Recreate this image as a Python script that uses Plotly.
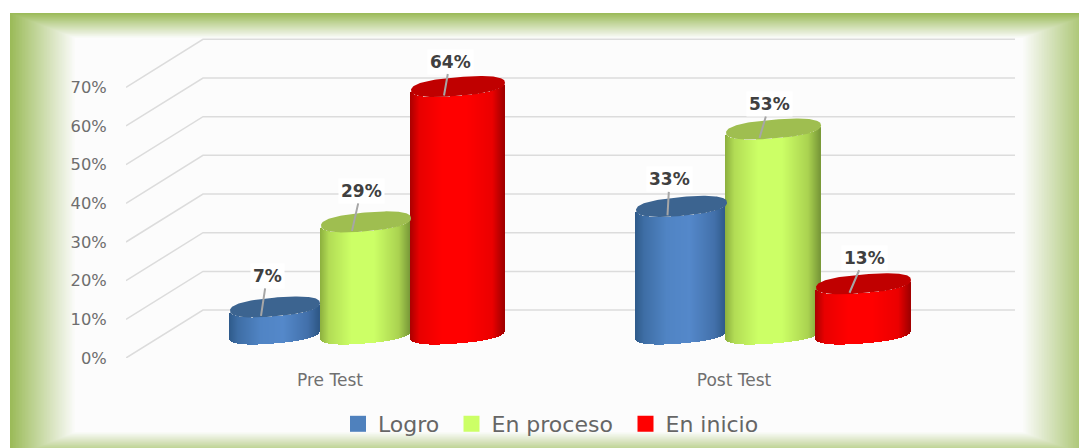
import numpy as np
import plotly.graph_objects as go

# ---- data ----
categories = ["Pre Test", "Post Test"]
series_names = ["Logro", "En proceso", "En inicio"]
logro = [7, 33]
en_proceso = [29, 53]
en_inicio = [64, 13]
value_ticks = [0, 10, 20, 30, 40, 50, 60, 70]
value_tick_labels = ["0%", "10%", "20%", "30%", "40%", "50%", "60%", "70%"]

# ---- layout constants (pixels of the 1079x448 page) ----
W, H = 1079, 448
L, R, T, B = 126, 1015, 38, 358
PX_PCT = 3.867
PX_U = 404.0
U0 = 330.0
def u(px): return (px - U0) / PX_U
def px_x(p): return (p - L) / (R - L)
def px_y(p): return (B - p) / (B - T)

DEPTH = 12.4
BASE = 6.2
CENTER_OFF_PX = [[-55, -52.5], [36, 39.5], [128, 129.5]]
HALF_W_PX = [[45, 45.5], [45, 47.5], [47, 47.5]]
MINOR_PX = 9.4
TILT_PX = 3.8
SUPER = 0.82

LEG_COL = ["#4f81bd", "#ccff66", "#ff0000"]
CAP_COL = ["#3c6490", "#9fbe50", "#c00000"]
STOPS_POS = [-1, -0.8, -0.3, 0.2, 0.75, 1]
STOPS = [
    [(46, 90, 138), (62, 110, 165), (80, 132, 196), (84, 136, 202), (66, 112, 170), (46, 88, 134)],
    [(140, 175, 62), (178, 220, 85), (204, 255, 102), (204, 255, 102), (170, 210, 80), (120, 152, 56)],
    [(170, 0, 0), (232, 0, 0), (255, 0, 0), (255, 0, 0), (235, 0, 0), (160, 0, 0)],
]

LABEL_TEXT_OFF = [[(6, -40), (2, -36)], [(9, -40), (10, -34)], [(6, -34), (15, -35)]]
HEAD_OFF = (-14, 9)
LEGEND_X_PX = [338, 451.5, 625.5]
LEGEND_IDS = ["legend", "legend2", "legend3"]

values = [logro, en_proceso, en_inicio]
fig = go.Figure()

def col(i, t):
    c = [np.interp(t, STOPS_POS, [s[k] for s in STOPS[i]]) for k in range(3)]
    return f"rgb({c[0]:.0f},{c[1]:.0f},{c[2]:.0f})"

annotations = []
for i, name in enumerate(series_names):
    for j, cat in enumerate(categories):
        v = values[i][j]
        a = HALF_W_PX[i][j]
        cx = j + CENTER_OFF_PX[i][j] / PX_U
        dx = np.arange(-a + 0.5, a, 1.0)
        r = dx / a
        round_part = MINOR_PX * (1 - np.abs(r) ** (2 / SUPER)) ** (SUPER / 2)
        shear = TILT_PX * r
        lower = BASE + (shear - round_part) / PX_PCT
        fig.add_trace(go.Bar(
            x=cx + dx / PX_U,
            y=[v] * len(dx),
            base=lower,
            width=1.4 / PX_U,
            marker=dict(color=[col(i, t) for t in r], line=dict(width=0)),
            showlegend=False, hoverinfo="skip",
        ))
        th = np.linspace(0, 2 * np.pi, 160)
        ex = np.sign(np.cos(th)) * np.abs(np.cos(th)) ** SUPER
        ey = np.sign(np.sin(th)) * np.abs(np.sin(th)) ** SUPER
        capx = cx + a * ex / PX_U
        capy = v + BASE + (TILT_PX * ex + MINOR_PX * ey) / PX_PCT
        fig.add_trace(go.Scatter(
            x=capx, y=capy, mode="lines", fill="toself", fillcolor=CAP_COL[i],
            line=dict(width=0, color=CAP_COL[i]), showlegend=False, hoverinfo="skip",
        ))
        ox, oy = LABEL_TEXT_OFF[i][j]
        annotations.append(dict(
            x=cx + HEAD_OFF[0] / PX_U, y=v + BASE - HEAD_OFF[1] / PX_PCT,
            xref="x", yref="y", ax=ox, ay=oy, axref="pixel", ayref="pixel",
            text=f"{v}%", showarrow=True, arrowhead=0, arrowwidth=2, arrowcolor="#a6a6a6",
            bgcolor="#ffffff", borderpad=2,
            font=dict(family="DejaVu Sans", size=17, color="#404040", weight="bold"),
        ))

for i, name in enumerate(series_names):
    fig.add_trace(go.Scatter(
        x=[None], y=[None], mode="markers", name=name, showlegend=True,
        legend=LEGEND_IDS[i],
        marker=dict(symbol="square", size=16, color=LEG_COL[i]),
    ))

shapes = []
# glow frame
N = 44
OUT = np.array([10, 13, 1094, 458], float)
INN = np.array([75, 38, 1023, 432], float)
GREEN = np.array([155, 187, 89], float)
WHITE = np.array([252, 252, 252], float)
for k in range(N + 1):
    f = k / N
    x0, y0, x1, y1 = OUT + (INN - OUT) * f
    c = GREEN + (WHITE - GREEN) * f
    shapes.append(dict(
        type="rect", xref="paper", yref="paper", layer="below",
        x0=px_x(x0), x1=px_x(x1), y0=px_y(y1), y1=px_y(y0),
        fillcolor=f"rgb({c[0]:.0f},{c[1]:.0f},{c[2]:.0f})", line=dict(width=0),
    ))
# floor/wall grid
for t in value_ticks:
    shapes.append(dict(
        type="path", xref="x", yref="y", layer="below",
        path=f"M {u(L)} {t} L {u(203)} {t + DEPTH} L {u(R)} {t + DEPTH}",
        line=dict(color="#dcdcdc", width=1.5),
    ))

legend_layouts = {
    lid: dict(
        orientation="h", x=px_x(LEGEND_X_PX[i]), xanchor="left", y=px_y(424), yanchor="middle",
        bgcolor="rgba(0,0,0,0)", itemclick=False, itemdoubleclick=False,
        font=dict(family="DejaVu Sans", size=22, color="#666666"),
    )
    for i, lid in enumerate(LEGEND_IDS)
}

fig.update_layout(
    width=W, height=H, autosize=False,
    margin=dict(l=L, r=W - R, t=T, b=H - B, pad=0, autoexpand=False),
    paper_bgcolor="#ffffff", plot_bgcolor="rgba(0,0,0,0)",
    barmode="overlay", bargap=0,
    shapes=shapes, annotations=annotations,
    xaxis=dict(
        range=[u(L), u(R)], tickvals=[0, 1], ticktext=categories,
        showgrid=False, zeroline=False, showline=False,
        ticks="outside", ticklen=7, tickcolor="rgba(0,0,0,0)",
        tickfont=dict(family="DejaVu Sans", size=17, color="#707070"),
    ),
    yaxis=dict(
        range=[0, (B - T) / PX_PCT], tickvals=value_ticks, ticktext=value_tick_labels,
        showgrid=False, zeroline=False, showline=False,
        ticks="outside", ticklen=15, tickcolor="rgba(0,0,0,0)",
        tickfont=dict(family="DejaVu Sans", size=16.3, color="#6e6e6e"),
    ),
    showlegend=True,
    **legend_layouts,
)

fig.write_html(
    "out.html",
    config={"displayModeBar": False},
    post_script="document.body.style.margin='0';document.body.style.overflow='hidden';",
)
